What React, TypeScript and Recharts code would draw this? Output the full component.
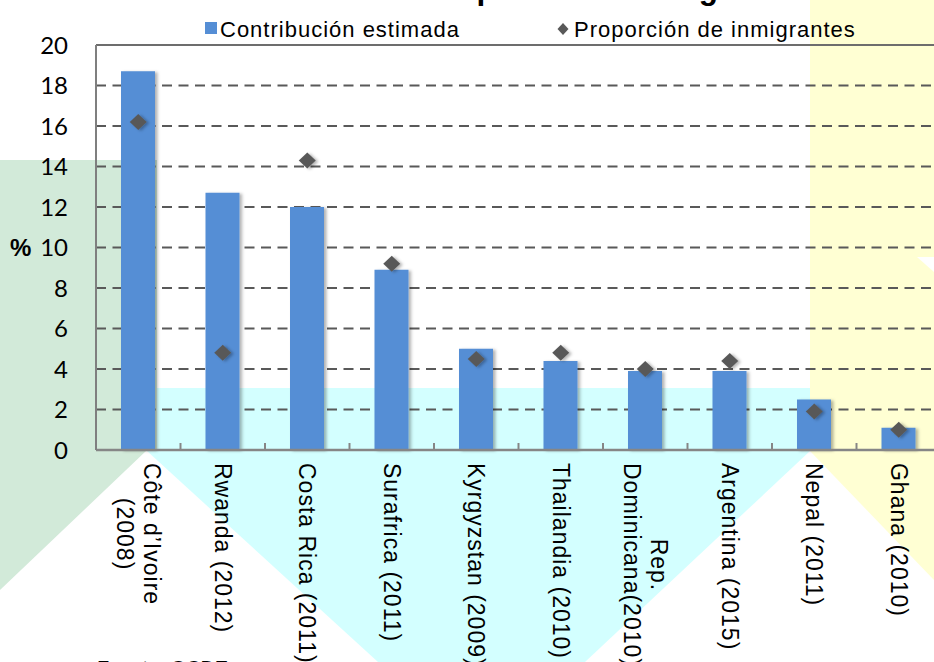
import React from 'react';
import {
  ComposedChart,
  Bar,
  Line,
  XAxis,
  YAxis,
  CartesianGrid,
  ReferenceLine,
} from 'recharts';

// valores (%)
const paises = [
  'Côte d’Ivoire\n(2008)',
  'Rwanda (2012)',
  'Costa Rica (2011)',
  'Surafrica (2011)',
  'Kyrgyzstan (2009)',
  'Thailandia (2010)',
  'Rep.\nDominicana(2010)',
  'Argentina (2015)',
  'Nepal (2011)',
  'Ghana (2010)',
];
const contribucion = [18.7, 12.7, 12.0, 8.9, 5.0, 4.4, 3.9, 3.9, 2.5, 1.1];
const proporcion = [16.2, 4.8, 14.3, 9.2, 4.5, 4.8, 4.0, 4.4, 1.9, 1.0];
const yTicks = [0, 2, 4, 6, 8, 10, 12, 14, 16, 18, 20];

const data = paises.map((pais, i) => ({
  pais,
  contribucion: contribucion[i],
  proporcion: proporcion[i],
}));

const AZUL = '#558ED5';
const GRIS = '#595959';
const SANS = "'Liberation Sans', Arial, sans-serif";

const CHART_W = 945;
const CHART_H = 662;
const Y_AXIS_W = 96;
const MARGIN = { top: 45, right: 4, bottom: 0, left: 0 };
const BAND = (CHART_W - MARGIN.right - Y_AXIS_W) / paises.length;

let ctx: CanvasRenderingContext2D | null = null;
function medir(texto: string, font: string) {
  if (!ctx) ctx = document.createElement('canvas').getContext('2d');
  if (!ctx) return texto.length * 12;
  ctx.font = font;
  return ctx.measureText(texto).width;
}

function PaisTick(props: any) {
  const { x, y, payload } = props;
  const lineas = String(payload.value).split('\n');
  const size = 23;
  const esp = 1;
  const ancho = Math.max(
    ...lineas.map((l) => medir(l, `${size}px 'Liberation Sans'`) + l.length * esp)
  );
  const lh = 27;
  return (
    <g>
      <line x1={x + BAND / 2} x2={x + BAND / 2} y1={y - 7} y2={y} stroke="#868686" strokeWidth={2} />
      <g transform={`translate(${x},${y})`}>
        <text
          transform="rotate(90)"
          textAnchor="middle"
          dominantBaseline="central"
          fontSize={size}
          letterSpacing={esp}
          fontFamily={SANS}
          fill="#000"
        >
          {lineas.map((l, i) => (
            <tspan key={i} x={13 + ancho / 2} y={(i - (lineas.length - 1) / 2) * lh}>
              {l}
            </tspan>
          ))}
        </text>
      </g>
    </g>
  );
}

function Rombo(props: any) {
  const { cx, cy, index } = props;
  if (cx == null || cy == null) return null;
  const w = 8.5;
  const h = 8;
  return (
    <polygon
      key={index}
      points={`${cx},${cy - h} ${cx + w},${cy} ${cx},${cy + h} ${cx - w},${cy}`}
      fill={GRIS}
      filter="url(#sombra)"
    />
  );
}

function Fondo() {
  return (
    <svg width={934} height={662} style={{ position: 'absolute', left: 0, top: 0 }}>
      <polygon points="150,388 810,388 810,451 585,662 378,662 147,451" fill="#D3FFFF" />
      <polygon points="0,160 157,160 157,451 146,451 0,590" fill="#D2EAD9" />
      <polygon points="810,0 934,0 934,580 810,451" fill="#FFFFD3" />
      <polygon points="917,257 934,257 934,272" fill="#ffffff" />
    </svg>
  );
}

function Textos() {
  return (
    <svg
      width={934}
      height={662}
      style={{ position: 'absolute', left: 0, top: 0, pointerEvents: 'none' }}
      fontFamily={SANS}
    >
      {/* título cortado en la parte superior: solo asoman los trazos descendentes */}
      <text x={95} y={-1} fontSize={31.5} fontWeight="bold" fill="#000">
        Contribución al PIB de la población inmigrante
      </text>
      <rect x={205} y={22} width={12} height={12} fill={AZUL} />
      <text x={220} y={37} fontSize={22} letterSpacing={1} fill="#000">
        Contribución estimada
      </text>
      <polygon points="563,23 568.5,29 563,35 557.5,29" fill={GRIS} />
      <text x={574} y={37} fontSize={22} letterSpacing={1} fill="#000">
        Proporción de inmigrantes
      </text>
      <text x={97} y={675} fontSize={20} fill="#000">
        Fuente: OCDE
      </text>
    </svg>
  );
}

export default function App() {
  return (
    <div
      style={{
        position: 'fixed',
        left: 0,
        top: 0,
        width: 934,
        height: 662,
        overflow: 'hidden',
        background: '#fff',
      }}
    >
      <Fondo />
      <div style={{ position: 'absolute', left: 0, top: 0 }}>
        <ComposedChart width={CHART_W} height={CHART_H} data={data} margin={MARGIN}>
          <defs>
            <filter id="sombra" x="-30%" y="-30%" width="170%" height="170%">
              <feDropShadow dx={2.5} dy={1} stdDeviation={1.5} floodColor="#000" floodOpacity={0.3} />
            </filter>
          </defs>
          <CartesianGrid
            vertical={false}
            stroke={GRIS}
            strokeWidth={2}
            strokeDasharray="10 6.5"
          />
          <ReferenceLine y={20} stroke="#6d6d6d" strokeWidth={2} />
          <XAxis
            dataKey="pais"
            height={212}
            interval={0}
            tickLine={false}
            tickSize={0}
            tickMargin={0}
            axisLine={{ stroke: '#868686', strokeWidth: 2.5 }}
            tick={<PaisTick />}
          />
          <YAxis
            width={Y_AXIS_W}
            domain={[0, 20]}
            ticks={yTicks}
            interval={0}
            tickLine={false}
            tickSize={0}
            tickMargin={28}
            axisLine={{ stroke: '#7f7f7f', strokeWidth: 2 }}
            tick={{ fontSize: 24, fontFamily: 'Lato', fill: '#000' }}
            label={{
              value: '%',
              position: 'insideLeft',
              offset: 10,
              style: { fontSize: 24, fontWeight: 'bold', fontFamily: SANS, fill: '#000' },
            }}
          />
          <Bar
            dataKey="contribucion"
            fill={AZUL}
            barSize={34}
            filter="url(#sombra)"
            isAnimationActive={false}
          />
          <Line
            dataKey="proporcion"
            stroke="none"
            dot={<Rombo />}
            activeDot={false}
            isAnimationActive={false}
          />
        </ComposedChart>
      </div>
      <Textos />
    </div>
  );
}
